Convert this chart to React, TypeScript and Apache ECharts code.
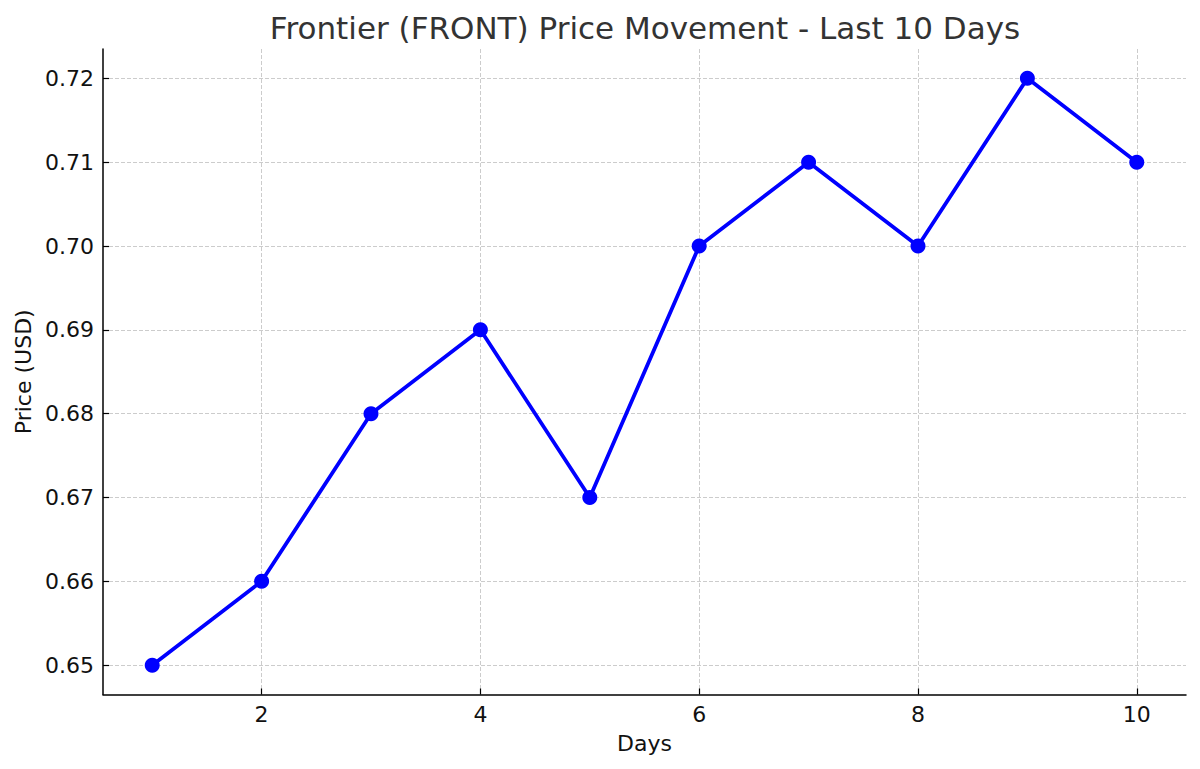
import React, { useEffect, useRef } from "react";
import * as echarts from "echarts";

const days = [1, 2, 3, 4, 5, 6, 7, 8, 9, 10];
const prices = [0.65, 0.66, 0.68, 0.69, 0.67, 0.7, 0.71, 0.7, 0.72, 0.71];
const xTicks = [2, 4, 6, 8, 10];
const yTicks = [0.65, 0.66, 0.67, 0.68, 0.69, 0.7, 0.71, 0.72];

const FONT = "DejaVu Sans";

export default function App() {
  const ref = useRef<HTMLDivElement>(null);
  useEffect(() => {
    document.body.style.margin = "0";
    const chart = echarts.init(ref.current!, null, { renderer: "svg" });
    const gridLine = { show: true, lineStyle: { color: "#cccccc", width: 1, type: [4, 2] as any } };
    chart.setOption({
      animation: false,
      backgroundColor: "#ffffff",
      textStyle: { fontFamily: FONT },
      grid: { left: 103, right: 14, top: 49, bottom: 74.5, containLabel: false },
      graphic: [
        {
          type: "text",
          x: 645,
          y: 28,
          style: {
            text: "Frontier (FRONT) Price Movement - Last 10 Days",
            fontFamily: FONT,
            fontSize: 31,
            fill: "#333333",
            textAlign: "center",
            textVerticalAlign: "middle",
          },
        },
      ],
      xAxis: {
        type: "value",
        min: 0.55,
        max: 10.45,
        name: "Days",
        nameLocation: "middle",
        nameGap: 38,
        nameTextStyle: { fontFamily: FONT, fontSize: 22, color: "#111" },
        axisLine: { show: true, onZero: false, lineStyle: { color: "#000", width: 1.5 } },
        axisTick: { show: true, inside: true, length: 6, customValues: xTicks, lineStyle: { color: "#000", width: 1.2 } },
        axisLabel: { customValues: xTicks, fontFamily: FONT, fontSize: 22, color: "#111", margin: 9 },
        splitLine: gridLine,
      },
      yAxis: {
        type: "value",
        min: 0.6465,
        max: 0.7235,
        name: "Price (USD)",
        nameLocation: "middle",
        nameGap: 69,
        nameRotate: 90,
        nameTextStyle: { fontFamily: FONT, fontSize: 22, color: "#111" },
        axisLine: { show: true, onZero: false, lineStyle: { color: "#000", width: 1.5 } },
        axisTick: { show: true, inside: true, length: 6, customValues: yTicks, lineStyle: { color: "#000", width: 1.2 } },
        axisLabel: {
          customValues: yTicks,
          fontFamily: FONT,
          fontSize: 22,
          color: "#111",
          margin: 9,
          formatter: (v: number) => v.toFixed(2),
        },
        splitLine: gridLine,
      },
      series: [
        {
          type: "line",
          data: days.map((d, i) => [d, prices[i]]),
          symbol: "circle",
          symbolSize: 15,
          lineStyle: { color: "#0000ff", width: 3.8 },
          itemStyle: { color: "#0000ff" },
          z: 5,
        },
      ],
    });
    return () => chart.dispose();
  }, []);
  return <div ref={ref} style={{ width: 1200, height: 769 }} />;
}
